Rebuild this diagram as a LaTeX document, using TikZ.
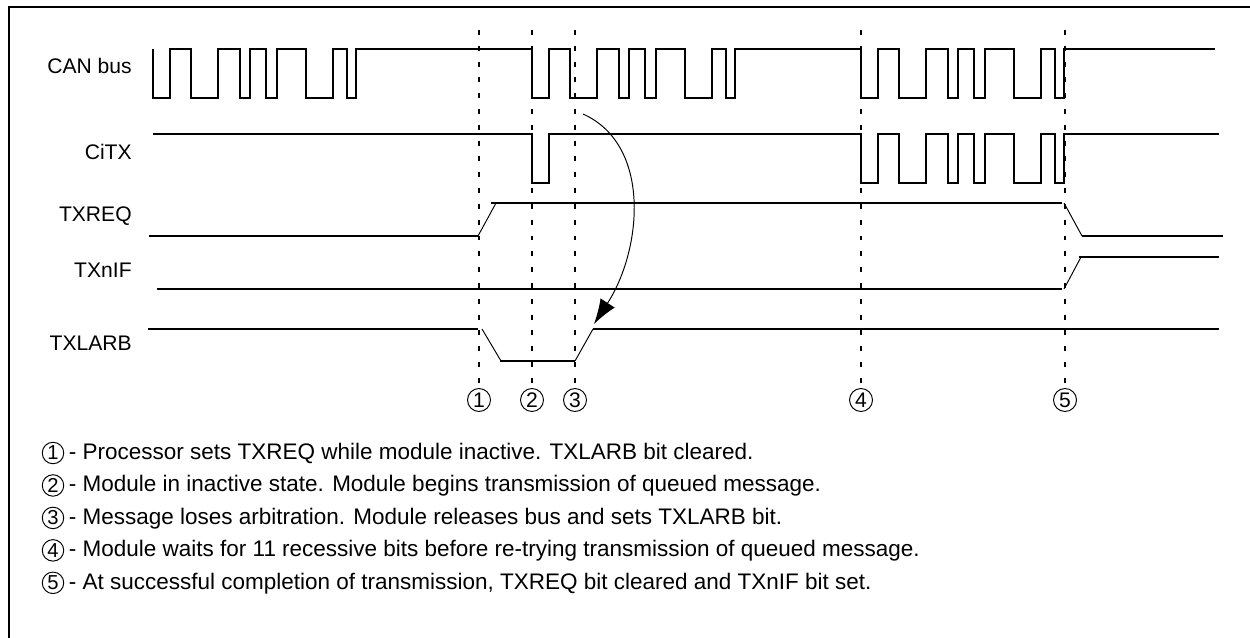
\documentclass[tikz,border=0pt]{standalone}
\usepackage{fontspec}
\setmainfont{Liberation Sans}
\usetikzlibrary{positioning,arrows.meta}

% one CAN frame fragment, starting high, relative moves (y grows downwards)
\newcommand{\bitburst}{-- ++(0,49) -- ++(17,0) -- ++(0,-49) -- ++(21,0)
  -- ++(0,49) -- ++(27,0) -- ++(0,-49) -- ++(22,0) -- ++(0,49) -- ++(10,0)
  -- ++(0,-49) -- ++(16,0) -- ++(0,49) -- ++(11,0) -- ++(0,-49) -- ++(29,0)
  -- ++(0,49) -- ++(27,0) -- ++(0,-49) -- ++(14,0) -- ++(0,49) -- ++(9,0)
  -- ++(0,-49)}

\begin{document}
\begin{tikzpicture}[x=0.02cm,y=-0.02cm,
      sig/.style={line width=1.1pt,line join=miter},
      slope/.style={line width=0.55pt},
      guide/.style={line width=1.1pt,dash pattern=on 2.8pt off 6.2pt},
      frame/.style={line width=1.1pt},
      lbl/.style={anchor=base east,inner sep=0pt,font=\fontsize{12}{14}\selectfont},
      marker/.style={circle,draw,line width=0.55pt,inner sep=0pt,minimum size=0.46cm,font=\fontsize{12}{14}\selectfont},
      numc/.style={circle,draw,line width=0.55pt,inner sep=0pt,minimum size=0.43cm,font=\fontsize{11.5}{13}\selectfont},
      note/.style={inner sep=0pt,text height=0.716em,text depth=0pt,font=\fontsize{12.8}{15}\selectfont},
      loss/.style={line width=0.55pt,-{Latex[length=0.5cm,width=0.34cm]}}]
      \useasboundingbox (0,0) rectangle (1250,638);
      \draw[frame] (9,638) -- (9,7) -- (1250,7);

      % signal names
      \node[lbl] (can) at (132,74) {CAN bus};
      \node[lbl] (citx) at (132,160) {CiTX};
      \node[lbl] (txreq) at (132,222) {TXREQ};
      \node[lbl] (txif) at (132,278) {TXnIF};
      \node[lbl] (txlarb) at (132,350) {TXLARB};

      % CAN bus and CiTX
      \draw[sig] (153,49) \bitburst -- (532,49) \bitburst -- (861,49) \bitburst -- (1215,49);
      \draw[sig] (153,134) -- (532,134) -- (532,183) -- (549,183) -- (549,134) -- (861,134) \bitburst -- (1219,134);

      % TXREQ
      \draw[sig] (149,236) -- (478,236);
      \draw[slope] (478,236) -- (496,203);
      \draw[sig] (491,203) -- (1062,203);
      \draw[slope] (1064,203) -- (1082,236);
      \draw[sig] (1082,236) -- (1223,236);

      % TXnIF
      \draw[sig] (157,289) -- (1062,289);
      \draw[slope] (1064,289) -- (1081,257);
      \draw[sig] (1079,257) -- (1219,257);

      % TXLARB
      \draw[sig] (148,329) -- (478,329);
      \draw[slope] (482,329) -- (501,361);
      \draw[sig] (500,361) -- (575,361);
      \draw[slope] (575,361) -- (593,329);
      \draw[sig] (593,329) -- (1219,329);

      % event markers
      \node[marker] (m1) at (479,400) {1};
      \node[marker] (m2) at (532,400) {2};
      \node[marker] (m3) at (575,400) {3};
      \node[marker] (m4) at (861,400) {4};
      \node[marker] (m5) at (1065,400) {5};
      \foreach \m/\x in {m1/479,m2/532,m3/575,m4/861,m5/1065}
        \draw[guide] (\x,30) -- (\m.north);

      % lost arbitration
      \coordinate (lossA) at (583,114);
      \coordinate (lossB) at (594,324);
      \draw[loss] (lossA) .. controls (652,145) and (642,250) .. (lossB);

      % legend
      \node[numc] (c1) at (53,453) {1};
      \node[numc,below=0.2cm of c1] (c2) {2};
      \node[numc,below=0.2cm of c2] (c3) {3};
      \node[numc,below=0.2cm of c3] (c4) {4};
      \node[numc,below=0.2cm of c4] (c5) {5};
      \node[note,right=2.5pt of c1] (t1) {- Processor sets TXREQ while module inactive. TXLARB bit cleared.};
      \node[note,right=2.5pt of c2] (t2) {- Module in inactive state. Module begins transmission of queued message.};
      \node[note,right=2.5pt of c3] (t3) {- Message loses arbitration. Module releases bus and sets TXLARB bit.};
      \node[note,right=2.5pt of c4] (t4) {- Module waits for 11 recessive bits before re-trying transmission of queued message.};
      \node[note,right=2.5pt of c5] (t5) {- At successful completion of transmission, TXREQ bit cleared and TXnIF bit set.};
    \end{tikzpicture}
\end{document}
